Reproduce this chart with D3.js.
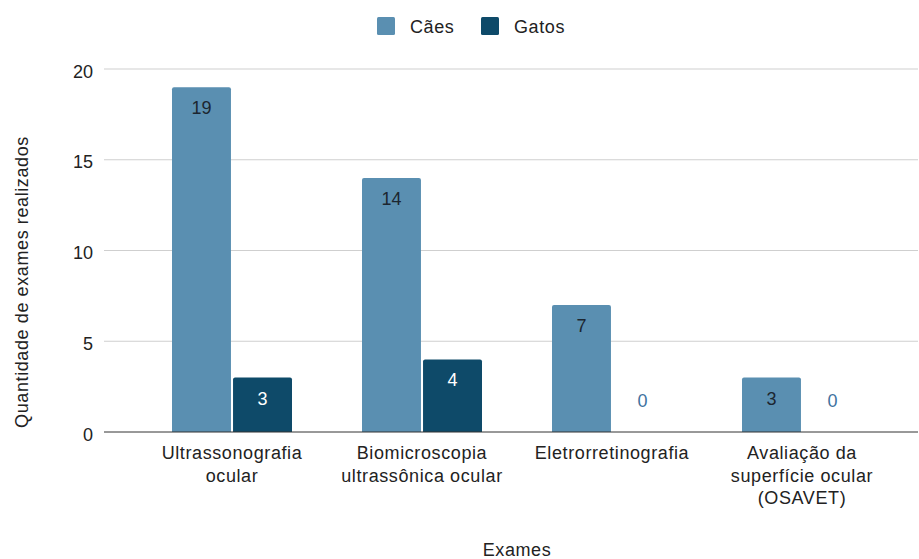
<!DOCTYPE html>
<html>
<head>
<meta charset="utf-8">
<script src="https://cdn.jsdelivr.net/npm/d3@7"></script>
<style>
  html, body { margin: 0; padding: 0; background: #fff; }
  svg { display: block; font-family: "Liberation Sans", Arial, sans-serif; }
</style>
</head>
<body>
<svg id="chart" width="919" height="559"></svg>
<script>
// Exam categories (each label split into display lines)
const categories = [
  ["Ultrassonografia", "ocular"],
  ["Biomicroscopia", "ultrassônica ocular"],
  ["Eletrorretinografia"],
  ["Avaliação da", "superfície ocular", "(OSAVET)"]
];
const seriesNames = ["Cães", "Gatos"];
const caesValues = [19, 14, 7, 3];
const gatosValues = [3, 4, 0, 0];
const yTicks = [0, 5, 10, 15, 20];

const colors = { "Cães": "#5a8fb1", "Gatos": "#0e4a69" };
const FONT = 18;
const SPACING = "0.6px";

const svg = d3.select("#chart");
const plot = { left: 104, right: 918, top: 69, bottom: 432 };

const catKeys = categories.map(c => c.join(" "));
const rows = catKeys.map((k, i) => ({ key: k, lines: categories[i], "Cães": caesValues[i], "Gatos": gatosValues[i] }));

const x0 = d3.scaleBand().domain(catKeys).range([137, 897]);
const x1 = d3.scaleBand().domain(seriesNames).range([35, 155]).paddingInner(0.034);
const y = d3.scaleLinear().domain([0, 20]).range([plot.bottom, plot.top]);

// Gridlines
svg.append("g")
  .selectAll("line").data(yTicks.filter(t => t !== 0)).join("line")
  .attr("x1", plot.left).attr("x2", plot.right)
  .attr("y1", d => y(d)).attr("y2", d => y(d))
  .attr("stroke", "#cfcfcf").attr("stroke-width", 1);

// Y axis tick labels
const yAxis = d3.axisLeft(y).tickValues(yTicks).tickSize(0).tickPadding(0);
const gy = svg.append("g").attr("transform", `translate(${plot.left - 11},0)`).call(yAxis);
gy.select(".domain").remove();
gy.selectAll("text")
  .attr("font-family", "'Liberation Sans', Arial, sans-serif")
  .attr("font-size", FONT).attr("fill", "#222").attr("dy", "0.45em");

// Bars
const groups = svg.append("g").selectAll("g").data(rows).join("g")
  .attr("transform", d => `translate(${x0(d.key)},0)`);

groups.selectAll("path.bar")
  .data(d => seriesNames.map(s => ({ s, v: d[s] })).filter(e => e.v > 0))
  .join("path").attr("class", "bar")
  .attr("d", e => {
    const bx = x1(e.s), bw = x1.bandwidth(), top = y(e.v), bot = y(0), r = 2;
    return `M${bx},${bot}V${top + r}Q${bx},${top} ${bx + r},${top}H${bx + bw - r}Q${bx + bw},${top} ${bx + bw},${top + r}V${bot}Z`;
  })
  .attr("fill", e => colors[e.s]);

// Value labels
groups.selectAll("text.val")
  .data(d => seriesNames.map(s => ({ s, v: d[s] })))
  .join("text").attr("class", "val")
  .attr("x", e => x1(e.s) + x1.bandwidth() / 2)
  .attr("y", e => e.v > 0 ? y(e.v) + 27 : y(0) - 25)
  .attr("text-anchor", "middle")
  .attr("font-size", FONT)
  .attr("fill", e => e.v === 0 ? "#3f73a0" : (e.s === "Gatos" ? "#ffffff" : "#1c2630"))
  .text(e => e.v);

// Baseline
svg.append("line")
  .attr("x1", plot.left).attr("x2", plot.right)
  .attr("y1", y(0)).attr("y2", y(0))
  .attr("stroke", "#333").attr("stroke-width", 1);

// Category labels
groups.append("text")
  .attr("text-anchor", "middle")
  .attr("font-size", FONT).attr("fill", "#222")
  .attr("letter-spacing", SPACING)
  .selectAll("tspan").data(d => d.lines).join("tspan")
  .attr("x", 95)
  .attr("y", (l, i) => 459 + i * 22.5)
  .text(l => l);

// Axis titles
svg.append("text")
  .attr("x", 517).attr("y", 556)
  .attr("text-anchor", "middle").attr("font-size", FONT).attr("fill", "#222")
  .attr("letter-spacing", SPACING)
  .text("Exames");

svg.append("text")
  .attr("transform", "translate(28,282) rotate(-90)")
  .attr("text-anchor", "middle").attr("font-size", FONT).attr("fill", "#222")
  .attr("letter-spacing", SPACING)
  .text("Quantidade de exames realizados");

// Legend
const legend = svg.append("g").attr("transform", "translate(377,17)");
const legendItems = [{ name: "Cães", x: 0 }, { name: "Gatos", x: 104 }];
const li = legend.selectAll("g").data(legendItems).join("g")
  .attr("transform", d => `translate(${d.x},0)`);
li.append("rect").attr("width", 18).attr("height", 18).attr("rx", 1.5)
  .attr("fill", d => colors[d.name]);
li.append("text").attr("x", 33).attr("y", 15.5)
  .attr("font-size", FONT).attr("fill", "#222")
  .attr("letter-spacing", SPACING)
  .text(d => d.name);
</script>
</body>
</html>
